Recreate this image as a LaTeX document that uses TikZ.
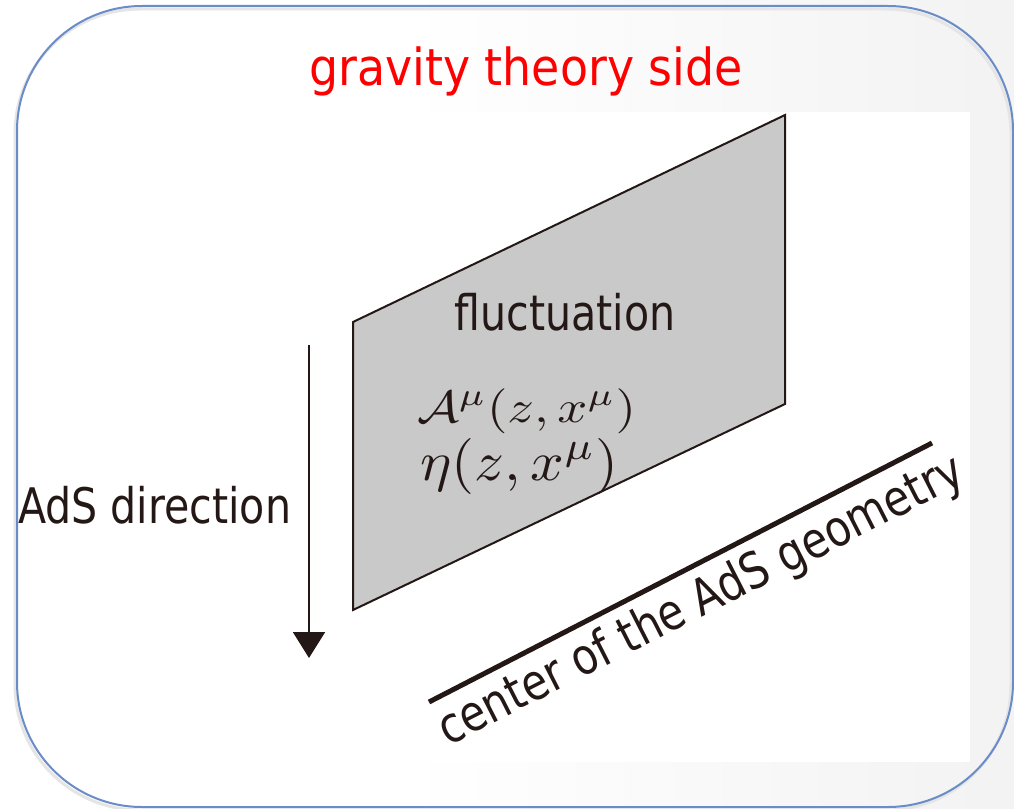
\documentclass[tikz,border=0pt]{standalone}
\usepackage{fontspec}
\usepackage{graphicx}
\usetikzlibrary{arrows.meta}
\newfontfamily\diagfont[FakeStretch=0.84]{DejaVu Sans}
\newfontfamily\titlefont[FakeStretch=0.9]{DejaVu Sans}
\definecolor{ink}{HTML}{231815}
\definecolor{frameblue}{HTML}{6A8CC8}
\definecolor{sheetgray}{HTML}{C9C9C9}
\definecolor{titlered}{HTML}{FF0000}
\pgfdeclarehorizontalshading{bgshade}{100bp}{color(0bp)=(white); color(45bp)=(white); color(100bp)=(black!9)}
\tikzset{
  txt/.style={inner sep=0pt, outer sep=0pt, text=ink},
  diag/.style={txt, font=\diagfont\fontsize{49}{58}\selectfont},
  sheet/.style={draw=ink, line width=2pt, fill=sheetgray, line join=miter},
  axisarrow/.style={draw=ink, line width=2pt, -{Triangle[width=32pt,length=26pt]}},
  centerline/.style={draw=ink, line width=5pt},
}
\begin{document}
\begin{tikzpicture}[x=1pt,y=-1pt]
\useasboundingbox (0,0) rectangle (1014,808);
% background gradient
\shade[shading=bgshade] (0,0) rectangle (1014,808);
% framed panel
\draw[black!10, line width=3pt, rounded corners=125pt] (15,9) rectangle (1011,810);
\draw[frameblue, line width=2pt, rounded corners=125pt] (17,6) rectangle (1013,807);
% embedded white picture area
\fill[white] (300,112) rectangle (970,762);
% title
\node[txt, anchor=base, text=titlered, font=\titlefont\fontsize{51}{60}\selectfont] (title) at (526,85) {gravity theory side};
% the fluctuating sheet
\coordinate (p1) at (353,322);
\coordinate (p2) at (785,115);
\coordinate (p3) at (785,404);
\coordinate (p4) at (353,610);
\path[sheet] (p1) -- (p2) -- (p3) -- (p4) -- cycle;
\node[diag, anchor=base] (fluct) at (565,330) {fluctuation};
\node[txt, anchor=base west] (eqA) at (417,422) {\scalebox{5.25}[4.5]{$\mathcal{A}^{\mu}(z,x^{\mu})$}};
\node[txt, anchor=base west] (eqEta) at (420,480) {\scalebox{5.9}[5.6]{$\eta(z,x^{\mu})$}};
% AdS direction arrow
\coordinate (arrtop) at (309,345);
\coordinate (arrtip) at (309,658);
\draw[axisarrow] (arrtop) -- (arrtip);
\node[diag, anchor=base west] (adsdir) at (18,523) {AdS direction};
% center of AdS geometry
\coordinate (c1) at (429,702);
\coordinate (c2) at (932,443);
\draw[centerline] (c1) -- (c2);
\node[txt, anchor=base, rotate=27, font=\diagfont\fontsize{50}{58}\selectfont] (center) at (708,614) {center of the AdS geometry};
\end{tikzpicture}
\end{document}
